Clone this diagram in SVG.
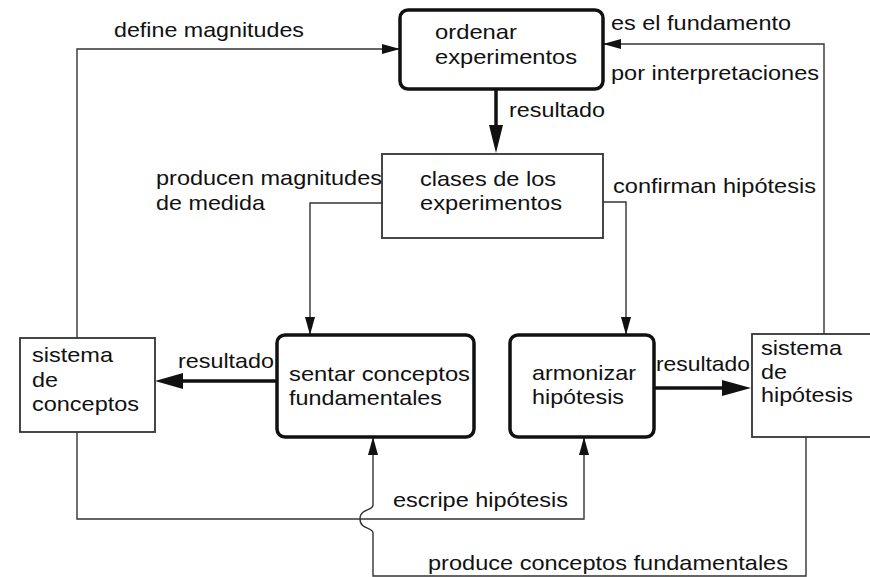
<svg xmlns="http://www.w3.org/2000/svg" width="870" height="577" viewBox="0 0 870 577">
<defs>
<style>
text{font-family:"Liberation Sans",Arial,sans-serif;font-size:21px;fill:#111}
.thick{fill:#fff;stroke:#111;stroke-width:3.5}
.thin{fill:#fff;stroke:#333;stroke-width:1.8}
.ln{fill:none;stroke:#333;stroke-width:1.4}
.bold{fill:none;stroke:#111;stroke-width:3.5}
.head{fill:#111;stroke:none}
</style>
<marker id="ah" viewBox="0 0 18 10" refX="18" refY="5" markerWidth="18" markerHeight="10" markerUnits="userSpaceOnUse" orient="auto">
<path d="M0,0 L18,5 L0,10 Z" fill="#111"/>
</marker>
</defs>
<rect width="870" height="577" fill="#fff"/>
<g id="connectors">
<path class="ln" d="M77,338 V49 H400" marker-end="url(#ah)"/>
<path class="ln" d="M824,334 V44 H603" marker-end="url(#ah)"/>
<path class="ln" d="M382,203 H310 V335" marker-end="url(#ah)"/>
<path class="ln" d="M603,202 H626 V335" marker-end="url(#ah)"/>
<path class="ln" d="M77,432 V519 H584 V437" marker-end="url(#ah)"/>
<path class="ln" d="M806,437 V576 H373 V533 C373,527 360,530 360,519 C360,508 373,511 373,505 V437" marker-end="url(#ah)"/>
<line class="bold" x1="496" y1="89" x2="496" y2="126"/>
<path class="head" d="M489,125 L503,125 L496,153 Z"/>
<line class="bold" x1="277" y1="381" x2="182" y2="381"/>
<path class="head" d="M183,373 L183,389 L155,381 Z"/>
<line class="bold" x1="654" y1="388" x2="724" y2="388"/>
<path class="head" d="M722,380 L722,396 L751,388 Z"/>
</g>
<g id="ordenar">
<rect class="thick" x="400" y="10" width="203" height="79" rx="8"/>
<text x="435" y="39" textLength="82" lengthAdjust="spacingAndGlyphs">ordenar</text>
<text x="435" y="64" textLength="142" lengthAdjust="spacingAndGlyphs">experimentos</text>
</g>
<g id="clases">
<rect class="thin" x="382" y="154" width="221" height="84"/>
<text x="420" y="186" textLength="136" lengthAdjust="spacingAndGlyphs">clases de los</text>
<text x="420" y="210" textLength="142" lengthAdjust="spacingAndGlyphs">experimentos</text>
</g>
<g id="sistema-conceptos">
<rect class="thin" x="20" y="338" width="135" height="94"/>
<text x="32" y="362" textLength="81" lengthAdjust="spacingAndGlyphs">sistema</text>
<text x="32" y="387" textLength="26" lengthAdjust="spacingAndGlyphs">de</text>
<text x="32" y="411" textLength="107" lengthAdjust="spacingAndGlyphs">conceptos</text>
</g>
<g id="sentar">
<rect class="thick" x="277" y="335" width="197" height="102" rx="8"/>
<text x="289" y="381" textLength="181" lengthAdjust="spacingAndGlyphs">sentar conceptos</text>
<text x="289" y="405" textLength="153" lengthAdjust="spacingAndGlyphs">fundamentales</text>
</g>
<g id="armonizar">
<rect class="thick" x="510" y="335" width="144" height="102" rx="8"/>
<text x="532" y="380" textLength="104" lengthAdjust="spacingAndGlyphs">armonizar</text>
<text x="532" y="404" textLength="92" lengthAdjust="spacingAndGlyphs">hipótesis</text>
</g>
<g id="sistema-hipotesis">
<rect class="thin" x="752" y="334" width="125" height="103"/>
<text x="761" y="355" textLength="81" lengthAdjust="spacingAndGlyphs">sistema</text>
<text x="761" y="379" textLength="26" lengthAdjust="spacingAndGlyphs">de</text>
<text x="761" y="402" textLength="92" lengthAdjust="spacingAndGlyphs">hipótesis</text>
</g>
<g id="labels">
<text x="114" y="37" textLength="190" lengthAdjust="spacingAndGlyphs">define magnitudes</text>
<text x="611" y="30" textLength="180" lengthAdjust="spacingAndGlyphs">es el fundamento</text>
<text x="611" y="80" textLength="208" lengthAdjust="spacingAndGlyphs">por interpretaciones</text>
<text x="509" y="117" textLength="96" lengthAdjust="spacingAndGlyphs">resultado</text>
<text x="156" y="185" textLength="226" lengthAdjust="spacingAndGlyphs">producen magnitudes</text>
<text x="156" y="210" textLength="109" lengthAdjust="spacingAndGlyphs">de medida</text>
<text x="613" y="193" textLength="203" lengthAdjust="spacingAndGlyphs">confirman hipótesis</text>
<text x="178" y="368" textLength="96" lengthAdjust="spacingAndGlyphs">resultado</text>
<text x="656" y="371" textLength="94" lengthAdjust="spacingAndGlyphs">resultado</text>
<text x="393" y="507" textLength="175" lengthAdjust="spacingAndGlyphs">escripe hipótesis</text>
<text x="428" y="570" textLength="360" lengthAdjust="spacingAndGlyphs">produce conceptos fundamentales</text>
</g>
</svg>
